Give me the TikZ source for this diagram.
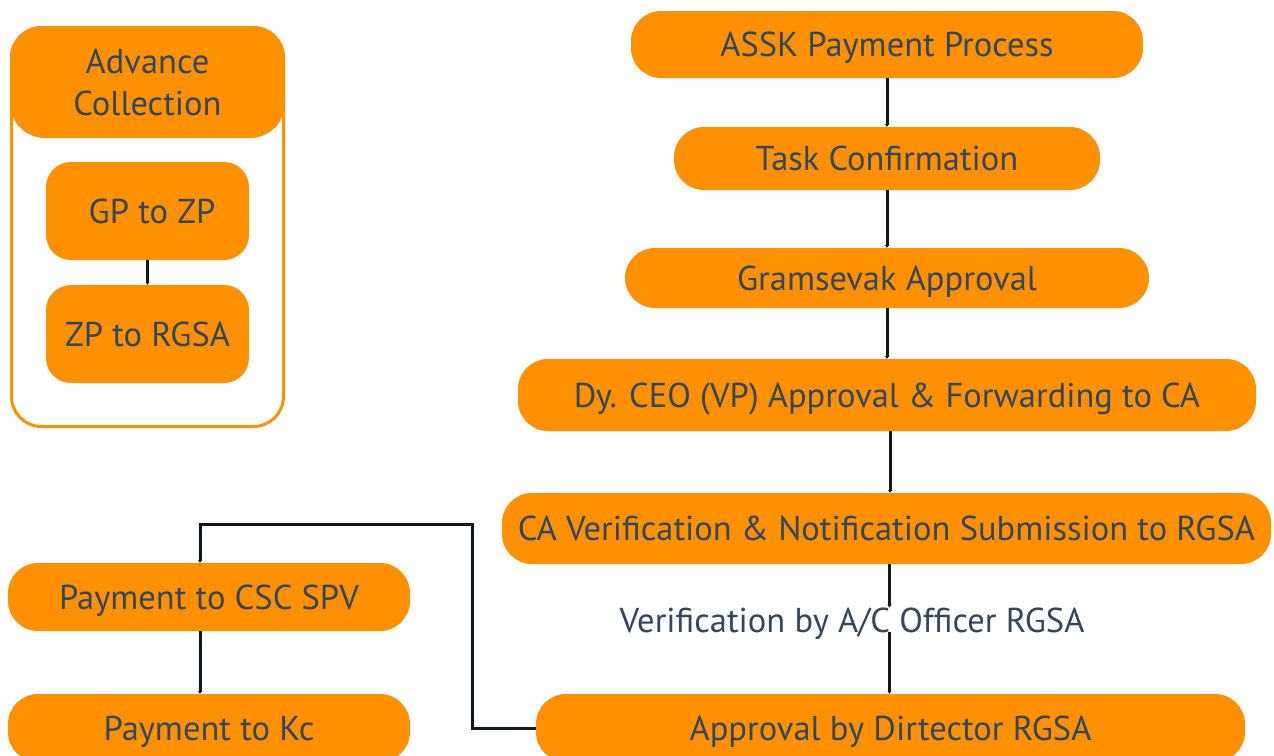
\documentclass[tikz,border=0pt]{standalone}
\usepackage{fontspec}
\setmainfont{PT Sans}
\usetikzlibrary{arrows.meta}

\definecolor{boxorange}{RGB}{255,145,0}
\definecolor{boxtext}{RGB}{52,70,92}
\definecolor{linkcol}{RGB}{16,22,36}

\begin{document}
\begin{tikzpicture}[x=1pt, y=1pt,
        every node/.style = {align=center, text=boxtext, inner sep=0pt,
                             font=\fontsize{34.5}{42}\selectfont},
        stage/.style = {shape=rectangle, fill=boxorange, rounded corners=30pt,
                        text depth=0pt},
        link/.style = {draw=linkcol, line width=3pt,
                       -{Stealth[length=3pt, width=4pt]}}]
    \useasboundingbox (0,0) rectangle (1274,-755);

    % advance collection group
    \node[draw=boxorange, line width=3pt, rounded corners=30pt,
          minimum width=272, minimum height=399] (adv) at (147.5,-227) {};
    \node[stage, rounded corners=35pt, minimum width=275, minimum height=112]
        (advhead) at (147.5,-82) {Advance\\Collection};
    \node[stage, rounded corners=25pt, minimum width=203, minimum height=98]
        (gpzp) at (147.5,-211) {\ GP to ZP};
    \node[stage, rounded corners=25pt, minimum width=203, minimum height=98]
        (zprgsa) at (147.5,-334) {ZP to RGSA};

    % main flow
    \node[stage, minimum width=512, minimum height=67] (assk) at (887,-44.5) {ASSK Payment Process};
    \node[stage, minimum width=426, minimum height=63] (task) at (887,-158.5) {Task Confirmation};
    \node[stage, minimum width=524, minimum height=60] (gram) at (887,-278) {Gramsevak Approval};
    \node[stage, minimum width=738, minimum height=72] (dyceo) at (887,-395) {Dy. CEO (VP) Approval \& Forwarding to CA};
    \node[stage, minimum width=769, minimum height=71] (caver) at (886.5,-528.5) {CA Verification \& Notification Submission to RGSA};
    \node[text depth=0pt] (acoff) at (852,-620) {Verification by A/C Officer RGSA};
    \node[stage, minimum width=709, minimum height=68] (appr) at (890.5,-728) {Approval by Dirtector RGSA};

    % payment side
    \node[stage, minimum width=402, minimum height=68] (csc) at (209,-597) {Payment to CSC SPV};
    \node[stage, minimum width=402, minimum height=68] (kc) at (209,-728) {Payment to Kc};
    \coordinate (turn) at (472,-524);

    \draw[link] (gpzp) -- (zprgsa);
    \draw[link] (assk) -- (task);
    \draw[link] (task) -- (gram);
    \draw[link] (gram) -- (dyceo);
    \draw[link] ([xshift=3pt]dyceo.south) -- ([xshift=3pt]dyceo.south |- caver.north);
    \draw[link] ([xshift=3pt]caver.south) -- ([xshift=3pt]caver.south |- acoff.north);
    \draw[link] ([xshift=3pt]caver.south |- acoff.south) -- ([xshift=3pt]caver.south |- appr.north);
    \draw[link] (appr.west) -| (turn) -| ([xshift=-9pt]csc.north);
    \draw[link] ([xshift=-9pt]csc.south) -- ([xshift=-9pt]kc.north);
\end{tikzpicture}
\end{document}
